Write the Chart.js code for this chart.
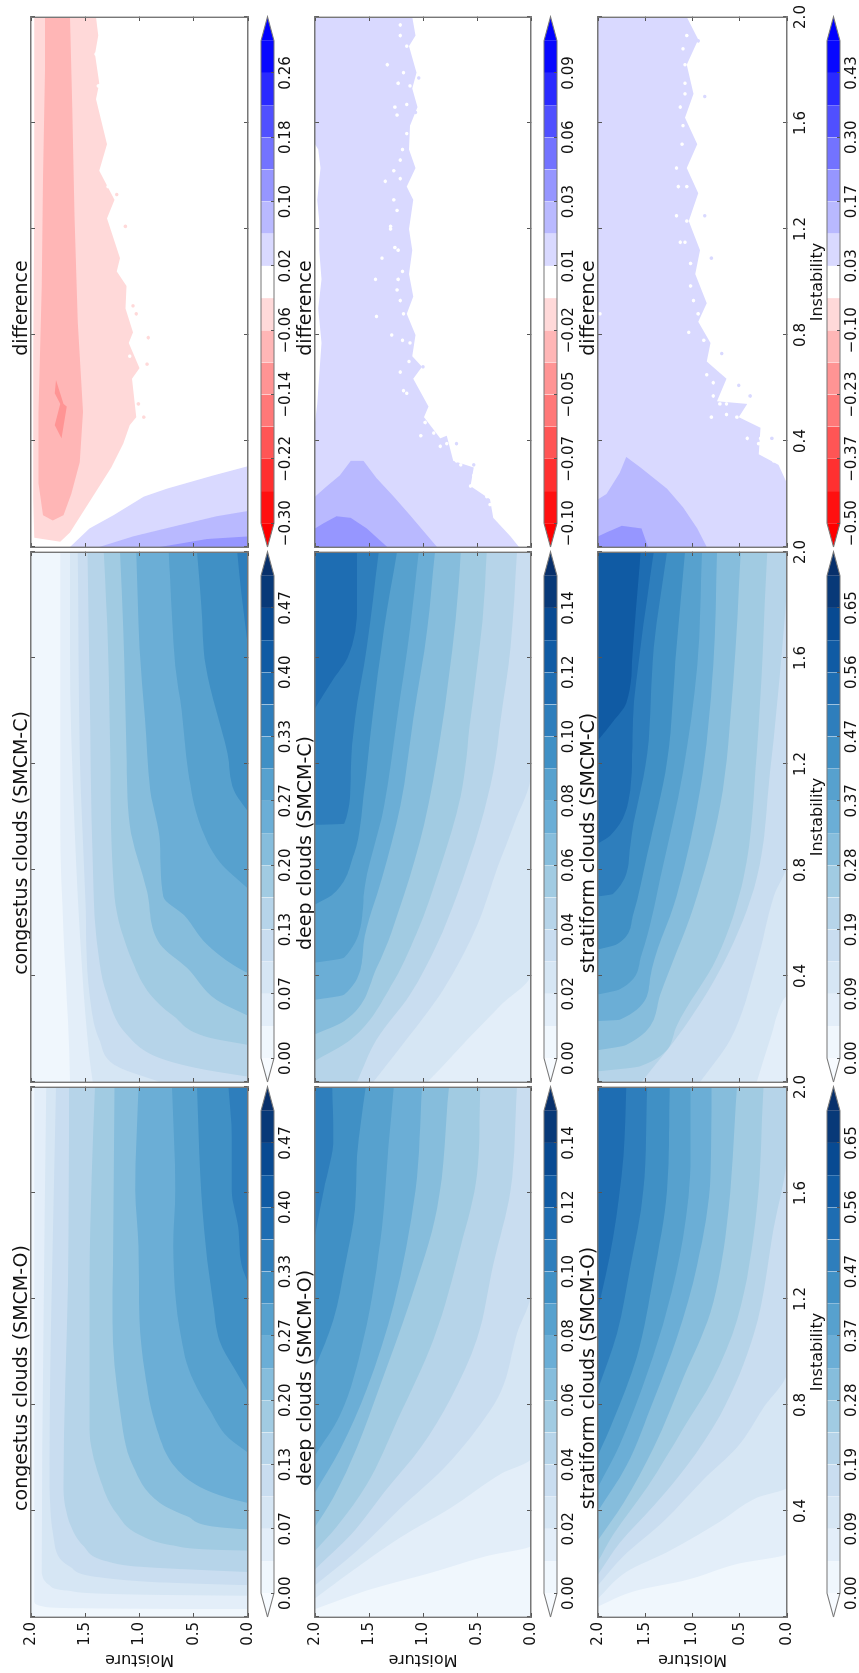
<!DOCTYPE html>
<html>
<head>
<meta charset="utf-8">
<title>cloud fractions</title>
<script src="https://cdn.jsdelivr.net/npm/chart.js@4/dist/chart.umd.min.js"></script>
<style>
html, body { margin: 0; padding: 0; background: #fff; overflow: hidden; width: 859px; height: 1673px; }
#fig { position: absolute; left: 0; top: 0; width: 1673px; height: 859px; transform-origin: 0 0; transform: translate(0, 1673px) rotate(-90deg); filter: blur(0.5px); }
#fig canvas { position: absolute; }
</style>
</head>
<body>
<div id="fig"></div>
<script>
// each contour is a list of [instability, moisture], lowest level first
const congestusO = [
  [[.03,0],[.033,1.52],[.04,1.89],[.06,1.97],[2,1.97]],
  [[.08,0],[.085,1.06],[.10,1.67],[.12,1.83],[.18,1.90],[2,1.86]],
  [[.12,0],[.13,.75],[.15,1.37],[.19,1.64],[.27,1.78],[.57,1.83],[2,1.77]],
  [[.17,0],[.18,.56],[.19,1.00],[.21,1.30],[.27,1.52],[.34,1.63],[.50,1.70],[1.26,1.66],[2,1.65]],
  [[.25,0],[.255,.38],[.27,.69],[.31,1.00],[.39,1.21],[.53,1.37],[.71,1.46],[1.26,1.46],[1.67,1.44],[2,1.41]],
  [[.33,0],[.34,.29],[.38,.56],[.43,.81],[.57,1.06],[.78,1.18],[1.12,1.25],[1.54,1.24],[2,1.23]],
  [[.43,0],[.45,.19],[.49,.44],[.56,.66],[.71,.84],[.92,.95],[1.12,1.00],[1.40,1.01],[1.61,1.04],[2,1.01]],
  [[.62,0],[.68,.19],[.78,.35],[.89,.50],[.98,.58],[1.40,.69],[1.61,.67],[2,.70]],
  [[.85,0],[.94,.13],[1.04,.26],[1.18,.32],[1.40,.39],[1.67,.44],[2,.47]],
  [[1.26,0],[1.33,.06],[1.47,.09],[1.61,.15],[1.81,.15],[2,.18]]
];
const congestusC = [
  [[0,1.64],[.23,1.66],[.56,1.70],[.97,1.73],[1.64,1.73],[2,1.73]],
  [[0,1.43],[.09,1.46],[.43,1.53],[.97,1.60],[1.64,1.64],[2,1.64]],
  [[0,.81],[.06,1.21],[.16,1.37],[.33,1.46],[.70,1.50],[1.24,1.55],[2,1.57]],
  [[.02,0],[.05,.44],[.09,.81],[.18,1.12],[.33,1.30],[.56,1.40],[.83,1.43],[1.51,1.46],[2,1.48]],
  [[.14,0],[.17,.38],[.25,.69],[.33,.90],[.45,1.06],[.70,1.23],[1.24,1.27],[1.64,1.29],[2,1.33]],
  [[.25,0],[.31,.29],[.43,.56],[.52,.81],[.72,.93],[.97,1.09],[1.24,1.12],[1.71,1.15],[2,1.18]],
  [[.41,0],[.44,.13],[.52,.38],[.63,.59],[.70,.78],[.90,.81],[1.10,.90],[1.37,.95],[1.64,1.00],[2,1.03]],
  [[.73,0],[.83,.26],[.97,.44],[1.17,.55],[1.40,.61],[1.57,.67],[1.91,.72],[2,.73]],
  [[1.02,0],[1.10,.13],[1.24,.19],[1.57,.39],[1.80,.43],[2,.47]],
  [[1.64,0],[1.84,.06],[2,.10]]
];
const deepO = [
  [[.03,2],[.10,1.52],[.17,.90],[.23,.41],[.27,0],[2,0]],
  [[.07,2],[.17,1.67],[.30,1.21],[.41,.75],[.54,.28],[.60,0],[2,0]],
  [[.12,2],[.25,1.61],[.41,1.21],[.56,.81],[.71,.50],[.85,.28],[1.07,.13],[1.23,0],[2,0]],
  [[.18,2],[.31,1.67],[.47,1.36],[.64,1.02],[.82,.75],[1.05,.50],[1.33,.35],[1.61,.19],[2,.13]],
  [[.25,2],[.34,1.80],[.50,1.52],[.74,1.24],[1.05,.90],[1.40,.65],[1.67,.50],[2,.47]],
  [[.34,2],[.45,1.83],[.64,1.61],[.87,1.40],[1.19,1.12],[1.54,.87],[2,.76]],
  [[.47,2],[.63,1.77],[.86,1.52],[1.18,1.27],[1.61,1.07],[2,1.01]],
  [[.61,2],[.76,1.77],[1.05,1.55],[1.47,1.38],[1.78,1.32],[2,1.27]],
  [[.94,2],[1.12,1.83],[1.33,1.72],[1.54,1.63],[1.74,1.61],[2,1.53]],
  [[1.44,2],[1.61,1.92],[1.81,1.83],[2,1.84]]
];
const deepC = [
  [[0,0],[2,0]],
  [[0,.96],[.05,.84],[.16,.59],[.29,.28],[.41,0],[2,0]],
  [[0,1.46],[.13,1.21],[.35,.81],[.59,.50],[.81,.31],[.97,.16],[1.17,0],[2,0]],
  [[0,1.61],[.16,1.43],[.33,1.12],[.52,.87],[.70,.69],[.97,.47],[1.17,.35],[1.37,.28],[1.64,.19],[2,.13]],
  [[.08,2],[.16,1.67],[.36,1.30],[.56,1.06],[.81,.84],[1.08,.65],[1.37,.56],[1.74,.45],[2,.41]],
  [[.18,2],[.23,1.73],[.43,1.43],[.70,1.18],[.97,.99],[1.30,.84],[1.74,.70],[2,.65]],
  [[.31,2],[.33,1.73],[.52,1.55],[.77,1.38],[1.04,1.21],[1.37,1.09],[1.71,.96],[2,.89]],
  [[.45,2],[.47,1.73],[.70,1.55],[1.04,1.36],[1.37,1.24],[1.71,1.12],[2,1.04]],
  [[.67,2],[.71,1.83],[.86,1.64],[1.08,1.55],[1.37,1.47],[1.71,1.36],[2,1.24]],
  [[.97,2],[.975,1.73],[1.17,1.67],[1.37,1.63],[1.64,1.52],[2,1.41]],
  [[1.41,2],[1.52,1.83],[1.60,1.70],[1.80,1.61],[2,1.61]]
];
const stratiformO = [
  [[.04,2],[.10,1.59],[.14,1.06],[.20,.53],[.24,0],[2,0]],
  [[.07,2],[.17,1.70],[.25,1.24],[.36,.71],[.45,.32],[.49,0],[2,0]],
  [[.12,2],[.23,1.73],[.36,1.31],[.52,.88],[.64,.53],[.79,.25],[.93,0],[2,0]],
  [[.16,2],[.28,1.77],[.42,1.41],[.57,1.06],[.76,.71],[1.07,.35],[1.47,.14],[1.76,0],[2,0]],
  [[.21,2],[.31,1.84],[.49,1.48],[.71,1.10],[.90,.78],[1.12,.53],[1.54,.32],[2,.25]],
  [[.29,2],[.43,1.73],[.64,1.41],[.90,1.10],[1.15,.81],[1.47,.64],[2,.53]],
  [[.40,2],[.57,1.70],[.82,1.41],[1.05,1.17],[1.33,.95],[1.67,.81],[2,.80]],
  [[.49,2],[.65,1.77],[.92,1.48],[1.16,1.27],[1.43,1.10],[1.74,1.02],[2,1.02]],
  [[.61,2],[.74,1.84],[.98,1.59],[1.29,1.41],[1.61,1.27],[2,1.24]],
  [[.86,2],[1.07,1.80],[1.32,1.66],[1.61,1.52],[2,1.48]],
  [[1.16,2],[1.43,1.84],[1.74,1.73],[2,1.70]]
];
const stratiformC = [
  [[0,0],[2,0]],
  [[0,.32],[.16,.18],[.31,.04],[.33,0],[2,0]],
  [[0,.92],[.16,.60],[.45,.32],[.70,.14],[.83,0],[2,0]],
  [[0,1.54],[.20,1.10],[.45,.67],[.77,.32],[1.17,.18],[1.64,.05],[1.91,0],[2,0]],
  [[.04,2],[.06,1.55],[.21,1.17],[.47,.74],[.77,.46],[1.24,.32],[2,.21]],
  [[.12,2],[.14,1.70],[.33,1.34],[.66,.99],[1.04,.71],[1.51,.57],[2,.49]],
  [[.23,2],[.235,1.77],[.39,1.45],[.70,1.17],[1.10,.92],[1.57,.78],[2,.74]],
  [[.33,2],[.35,1.77],[.48,1.54],[.77,1.34],[1.17,1.10],[1.57,.95],[2,.90]],
  [[.50,2],[.52,1.80],[.63,1.63],[.86,1.48],[1.21,1.27],[1.64,1.17],[2,1.08]],
  [[.70,2],[.71,1.84],[.89,1.66],[1.24,1.48],[1.64,1.41],[2,1.27]],
  [[.90,2],[.93,1.87],[1.10,1.66],[1.37,1.63],[1.64,1.55],[2,1.41]],
  [[1.29,2],[1.36,1.84],[1.43,1.70],[1.64,1.63],[1.91,1.57],[2,1.55]]
];

// difference panels: closed outlines, [instability, moisture]
const diff1Red = [
  [[2,1.97],[2,1.40],[1.93,1.38],[1.86,1.41],[1.75,1.37],[1.69,1.40],[1.52,1.30],[1.42,1.37],[1.31,1.23],[1.24,1.30],[1.09,1.18],[1.04,1.21],[.985,1.12],[.90,1.13],[.81,1.06],[.77,1.10],[.675,1.00],[.635,1.07],[.49,1.03],[.46,1.09],[.39,1.15],[.30,1.26],[.19,1.43],[.055,1.64],[.02,1.73],[.035,1.97],[.18,1.98],[.72,1.98],[1.28,1.97]],
  [[2,1.87],[2,1.64],[1.66,1.62],[1.25,1.60],[.85,1.57],[.51,1.52],[.32,1.55],[.20,1.63],[.12,1.70],[.10,1.80],[.12,1.89],[.24,1.93],[.51,1.93],[.985,1.90],[1.39,1.89],[1.80,1.87]],
  [[.63,1.77],[.54,1.70],[.53,1.67],[.41,1.72],[.46,1.78],[.54,1.73],[.58,1.78]]
];
const diff1Blue = [
  [[0,1.64],[.07,1.46],[.12,1.24],[.19,.96],[.22,.75],[.27,.32],[.305,0],[0,0]],
  [[0,1.37],[.04,1.06],[.08,.66],[.116,.29],[.136,0],[0,0]],
  [[0,.81],[.03,.38],[.04,0],[0,0]]
];
const diff2Blue = [
  [[0,.11],[.04,.19],[.11,.35],[.18,.38],[.23,.56],[.30,.53],[.325,.72],[.42,.78],[.41,.84],[.49,.99],[.53,.95],[.635,1.09],[.68,1.01],[.72,1.10],[.80,1.07],[.88,1.15],[.945,1.09],[1.03,1.13],[1.12,1.10],[1.20,1.13],[1.31,1.09],[1.36,1.15],[1.43,1.07],[1.50,1.13],[1.59,1.12],[1.66,1.05],[1.73,1.10],[1.79,1.06],[1.89,1.13],[1.93,1.07],[2,1.10],[2,2],[0,2]],
  [[0,.87],[.12,1.12],[.19,1.27],[.26,1.43],[.325,1.55],[.325,1.67],[.27,1.77],[.23,1.89],[.19,2],[0,2]],
  [[0,1.33],[.07,1.52],[.11,1.67],[.116,1.80],[.09,1.92],[.07,2],[0,2]]
];
const diff2Strip = [[1.52,2],[1.50,1.97],[1.43,1.95],[1.31,1.98],[1.23,1.96],[1.12,1.96],[1.01,1.94],[.90,1.97],[.77,1.94],[.65,1.96],[.54,1.98],[.47,2]];
const diff3Blue = [
  [[0,0],[.24,0],[.31,.09],[.35,.30],[.45,.28],[.49,.51],[.54,.42],[.55,.74],[.635,.64],[.70,.85],[.77,.81],[.85,.94],[.92,.85],[1.03,.97],[1.12,.92],[1.23,1.04],[1.335,.94],[1.43,1.06],[1.52,.95],[1.62,1.08],[1.71,.99],[1.82,1.06],[1.915,.94],[2,1.06],[2,2],[0,2]],
  [[0,.85],[.07,.95],[.15,1.10],[.22,1.27],[.26,1.41],[.30,1.55],[.34,1.70],[.28,1.77],[.20,1.91],[.18,2],[0,2]],
  [[0,1.47],[.07,1.54],[.08,1.75],[.055,1.91],[.04,2],[0,2]]
];
const diff1SpeckRed = [[1.33,1.21],[1.21,1.13],[.91,1.06],[.88,1.03],[.79,.92],[.69,.93],[.49,.96],[.54,1.01]];
const diff1SpeckWhite = [[1.86,1.40],[1.74,1.38],[1.36,1.29],[.945,1.10],[.72,1.09]];
const diff2SpeckWhite = [[1.93,1.21],[1.75,1.23],[1.67,1.15],[1.63,1.24],[1.82,1.33],[1.50,1.19],[1.38,1.35],[1.31,1.27],[1.39,1.21],[1.20,1.30],[1.12,1.23],[1.04,1.19],[.97,1.24],[.87,1.43],[.80,1.29],[.88,1.18],[.77,1.12],[.66,1.21],[.58,1.15],[.42,1.02],[.38,.84],[.325,.69],[.23,.56],[.16,.38],[1.09,1.38],[1.01,1.44],[1.97,1.21],[1.89,1.15],[1.79,1.18],[1.74,1.12],[1.66,1.26],[1.56,1.15],[1.46,1.21],[1.42,1.27],[1.27,1.24],[1.21,1.30],[1.13,1.26],[1.01,1.23],[.93,1.21],[.78,1.19],[.70,1.13],[.59,1.18],[.47,.98],[.43,.90],[.39,.78],[.31,.65],[.27,.53],[.19,.41],[.12,.28]];
const diff2SpeckBlue = [[1.77,1.04],[1.64,1.07],[.68,1.00],[.39,.69],[.31,.53]];
const diff3SpeckWhite = [[1.93,1.06],[1.82,1.08],[1.71,1.08],[1.59,1.10],[1.43,1.17],[1.36,1.06],[1.25,1.17],[1.15,1.08],[1.07,1.02],[.93,.99],[.81,1.04],[.78,.88],[.65,.85],[.62,.78],[.54,.71],[.49,.80],[.50,.64],[.41,.28],[.37,.21],[.325,.14],[.88,1.98],[1.88,1.10],[1.75,1.08],[1.66,1.13],[1.52,1.11],[1.36,1.15],[1.23,1.06],[1.15,1.13],[.985,1.02],[.88,.94],[.70,.81],[.57,.78],[.54,.64],[.49,.53],[.41,.42],[.39,.30]];
const diff3SpeckBlue = [[1.91,.94],[1.70,.87],[1.25,.87],[1.09,.80],[.73,.69],[.61,.51],[.57,.39],[.41,.16]];

const bluesBands = ['#f0f7fd','#e3eef9','#d6e6f4','#c9ddf0','#b6d4e9','#a1cbe2','#86bddc','#6baed6','#57a1ce','#4090c5','#2e7ebc','#1e6db2','#105ba4','#084a92','#083978'];
const bluesLowHigh = ['#f7fbff','#08306b'];
const diffBands = ['#ff1010','#ff3030','#ff5555','#ff7878','#ff9494','#ffb6b6','#ffd9d9','#ffffff','#d9d9ff','#b9b9ff','#9696ff','#7373ff','#5050ff','#2a2aff','#0808ff'];
const diffLowHigh = ['#ff0000','#0000ff'];

const rowTitles = ['congestus clouds', 'deep clouds', 'stratiform clouds'];
const instabilityTicks = [0, .4, .8, 1.2, 1.6, 2];
const instabilityLabels = ['', '0.4', '0.8', '1.2', '1.6', '2.0'];
const moistureTicks = [0, .5, 1, 1.5, 2];
const moistureLabels = ['0.0', '0.5', '1.0', '1.5', '2.0'];
const cbarTicks = [0, 2, 4, 6, 8, 10, 12, 14];
const congestusCbar = ['0.00','0.07','0.13','0.20','0.27','0.33','0.40','0.47'];
const deepCbar = ['0.00','0.02','0.04','0.06','0.08','0.10','0.12','0.14'];
const stratiformCbar = ['0.00','0.09','0.19','0.28','0.37','0.47','0.56','0.65'];
const diff1Cbar = ['\u22120.30','\u22120.22','\u22120.14','\u22120.06','0.02','0.10','0.18','0.26'];
const diff2Cbar = ['\u22120.10','\u22120.07','\u22120.05','\u22120.02','0.01','0.03','0.06','0.09'];
const diff3Cbar = ['\u22120.50','\u22120.37','\u22120.23','\u22120.10','0.03','0.17','0.30','0.43'];

// layout of the unrotated figure
const colX = [56, 591, 1126];
const rowY = [31, 315, 598];
const rowH = [217, 216, 189];
const cbarY = [261, 544, 827];
const panelW = 530, marginL = 56, marginR = 30, marginT = 26, marginB = 40;
const FONT = '"DejaVu Sans", sans-serif';
const TEXT = '#111', EDGE = '#777';

Chart.defaults.font.family = FONT;
Chart.defaults.animation = false;

const fig = document.getElementById('fig');
function addCanvas(x, y, w, h) {
  const c = document.createElement('canvas');
  c.width = w; c.height = h;
  c.style.left = x + 'px'; c.style.top = y + 'px';
  c.style.width = w + 'px'; c.style.height = h + 'px';
  fig.appendChild(c);
  return c.getContext('2d');
}
const pts = list => list.map(p => ({ x: p[0], y: p[1] }));
const area = (list, color, fill) => ({ data: pts(list), showLine: true, fill, backgroundColor: color, borderWidth: 0, pointRadius: 0, tension: 0 });
const specks = (list, color) => ({ data: pts(list), showLine: false, pointRadius: 1.8, borderWidth: 0, backgroundColor: color });

function contourSets(curves, side) {
  const sets = [area([[0, 0], [2, 0]], bluesBands[0], 'end')];
  curves.forEach((c, i) => sets.push({ ...area(c, bluesBands[i + 1], side), cubicInterpolationMode: 'monotone' }));
  return sets;
}

function frameAxis(position, ticks) {
  return {
    type: 'linear', position, min: 0, max: 2,
    afterBuildTicks: s => { s.ticks = ticks.map(v => ({ value: v })); },
    afterFit: s => { if (position === 'top') s.height = 0; else s.width = 0; },
    ticks: { display: false },
    grid: { drawOnChartArea: false, tickLength: -4, tickColor: '#555', z: 1 },
    border: { color: EDGE, width: 1.4, z: 1 }
  };
}

function drawPanel(row, col, title, datasets) {
  const h = rowH[row];
  const ctx = addCanvas(colX[col] - marginL, rowY[row] - marginT, panelW + marginL + marginR, h + marginT + marginB);
  new Chart(ctx, {
    type: 'scatter',
    data: { datasets: datasets.slice().reverse() },
    options: {
      responsive: false,
      events: [],
      layout: { padding: { left: marginL - 52, right: marginR, top: 0, bottom: 0 } },
      plugins: {
        legend: { display: false },
        tooltip: { enabled: false },
        title: {
          display: true, text: title, color: TEXT,
          font: { family: FONT, size: 19, weight: 'normal', lineHeight: 1 },
          padding: { top: marginT - 18, bottom: -1 }
        }
      },
      scales: {
        x: {
          type: 'linear', min: 0, max: 2,
          afterBuildTicks: s => { s.ticks = instabilityTicks.map(v => ({ value: v })); },
          afterFit: s => { s.height = marginB; },
          ticks: {
            display: row === 2, autoSkip: false, maxRotation: 0, padding: 9, color: TEXT,
            font: { size: 15 }, callback: (v, i) => instabilityLabels[i]
          },
          grid: { drawOnChartArea: false, tickLength: -4, tickColor: '#555', z: 1 },
          border: { color: EDGE, width: 1.4, z: 1 },
          title: { display: row === 2, text: 'Instability', color: TEXT, font: { size: 16 }, padding: 0 }
        },
        y: {
          type: 'linear', min: 0, max: 2,
          afterBuildTicks: s => { s.ticks = moistureTicks.map(v => ({ value: v })); },
          afterFit: s => { s.width = 52; },
          ticks: {
            display: col === 0, autoSkip: false, padding: 9, color: TEXT,
            font: { size: 15 }, callback: (v, i) => moistureLabels[i]
          },
          grid: { drawOnChartArea: false, tickLength: -4, tickColor: '#555', z: 1 },
          border: { color: EDGE, width: 1.4, z: 1 },
          title: { display: col === 0, text: 'Moisture', color: TEXT, font: { size: 16 }, padding: 0 }
        },
        x2: frameAxis('top', instabilityTicks),
        y2: frameAxis('right', moistureTicks)
      }
    }
  });
}

function drawCbar(row, col, bands, lowHigh, labels) {
  const ctx = addCanvas(colX[col] - marginL, cbarY[row] - 2, panelW + marginL + marginR, 43);
  const sets = [];
  bands.forEach((color, i) => sets.push(area([[i, 1], [i + 1, 1]], color, 'start')));
  sets.push(area([[-.74, .5], [0, 1], [0, 0]], lowHigh[0], 'shape'));
  sets.push(area([[15.74, .5], [15, 1], [15, 0]], lowHigh[1], 'shape'));
  sets.push({ data: pts([[-.74, .5], [0, 1], [15, 1], [15.74, .5], [15, 0], [0, 0], [-.74, .5]]), showLine: true, fill: false, borderColor: EDGE, borderWidth: 1.2, pointRadius: 0, clip: 4 });
  new Chart(ctx, {
    type: 'scatter',
    data: { datasets: sets.slice().reverse() },
    options: {
      responsive: false,
      events: [],
      layout: { padding: { left: marginL, right: marginR, top: 2, bottom: 0 } },
      plugins: { legend: { display: false }, tooltip: { enabled: false } },
      scales: {
        x: {
          type: 'linear', min: -.74, max: 15.74,
          afterBuildTicks: s => { s.ticks = cbarTicks.map(v => ({ value: v })); },
          afterFit: s => { s.height = 28; },
          ticks: { autoSkip: false, maxRotation: 0, padding: 6, color: TEXT, font: { size: 15 }, callback: (v, i) => labels[i] },
          grid: { drawOnChartArea: false, tickLength: -3, tickColor: '#555', z: 1 },
          border: { display: false }
        },
        y: { type: 'linear', min: 0, max: 1, display: false }
      }
    }
  });
}

drawPanel(0, 0, rowTitles[0] + ' (SMCM-O)', contourSets(congestusO, 'start'));
drawPanel(0, 1, rowTitles[0] + ' (SMCM-C)', contourSets(congestusC, 'start'));
drawPanel(1, 0, rowTitles[1] + ' (SMCM-O)', contourSets(deepO, 'end'));
drawPanel(1, 1, rowTitles[1] + ' (SMCM-C)', contourSets(deepC, 'end'));
drawPanel(2, 0, rowTitles[2] + ' (SMCM-O)', contourSets(stratiformO, 'end'));
drawPanel(2, 1, rowTitles[2] + ' (SMCM-C)', contourSets(stratiformC, 'end'));

const redShades = [diffBands[6], diffBands[5], diffBands[4]];
const blueShades = [diffBands[8], diffBands[9], diffBands[10]];
drawPanel(0, 2, 'difference', [
  area([[0, 0], [2, 0]], '#ffffff', 'end'),
  ...diff1Red.map((c, i) => area(c, redShades[i], 'shape')),
  ...diff1Blue.map((c, i) => area(c, blueShades[i], 'shape')),
  specks(diff1SpeckRed, redShades[0]),
  specks(diff1SpeckWhite, '#ffffff')
]);
drawPanel(1, 2, 'difference', [
  area([[0, 0], [2, 0]], '#ffffff', 'end'),
  ...diff2Blue.map((c, i) => area(c, blueShades[i], 'shape')),
  area(diff2Strip, '#ffffff', 'shape'),
  specks(diff2SpeckWhite, '#ffffff'),
  specks(diff2SpeckBlue, blueShades[0])
]);
drawPanel(2, 2, 'difference', [
  area([[0, 0], [2, 0]], '#ffffff', 'end'),
  ...diff3Blue.map((c, i) => area(c, blueShades[i], 'shape')),
  specks(diff3SpeckWhite, '#ffffff'),
  specks(diff3SpeckBlue, blueShades[0])
]);

drawCbar(0, 0, bluesBands, bluesLowHigh, congestusCbar);
drawCbar(0, 1, bluesBands, bluesLowHigh, congestusCbar);
drawCbar(1, 0, bluesBands, bluesLowHigh, deepCbar);
drawCbar(1, 1, bluesBands, bluesLowHigh, deepCbar);
drawCbar(2, 0, bluesBands, bluesLowHigh, stratiformCbar);
drawCbar(2, 1, bluesBands, bluesLowHigh, stratiformCbar);
drawCbar(0, 2, diffBands, diffLowHigh, diff1Cbar);
drawCbar(1, 2, diffBands, diffLowHigh, diff2Cbar);
drawCbar(2, 2, diffBands, diffLowHigh, diff3Cbar);
</script>
</body>
</html>
